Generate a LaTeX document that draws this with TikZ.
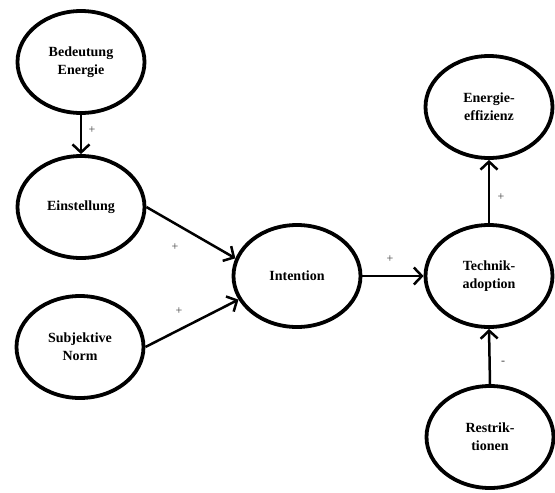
\documentclass[tikz,border=0pt]{standalone}
\usepackage{fontspec}
\setmainfont{Liberation Serif}
\usetikzlibrary{arrows.meta,shapes.geometric}
\begin{document}
\begin{tikzpicture}[x=1pt,y=-1pt,
  var/.style={ellipse, draw, line width=3.8pt, minimum width=127pt, minimum height=102pt,
    inner sep=0pt, align=center, font=\fontsize{14}{18}\selectfont\bfseries},
  link/.style={line width=2.5pt, -{Straight Barb[length=8pt,width=17pt,line width=2.5pt]}},
  sign/.style={font=\fontsize{12}{14}\selectfont, text=black!75, inner sep=0pt}]
\useasboundingbox (0,0) rectangle (555,493);
\node[var] (bed) at (81,62) {Bedeutung\\Energie};
\node[var] (ein) at (81,207) {Einstellung};
\node[var] (sub) at (80,347) {Subjektive\\Norm};
\node[var] (int) at (297,276) {Intention};
\node[var] (tech) at (489,276) {Technik-\\adoption};
\node[var] (eff) at (489,107) {Energie-\\effizienz};
\node[var] (res) at (490,437) {Restrik-\\tionen};
\draw[link] (bed.south) -- (ein.north);
\draw[link] (ein.east) -- (int.164);
\draw[link] (sub.east) -- (int.202);
\draw[link] (int.east) -- (tech.west);
\draw[link] (tech.north) -- (eff.south);
\draw[link] (res.north) -- (tech.south);
\node[sign] (s1) at (92,130) {+};
\node[sign] (s2) at (175,247) {+};
\node[sign] (s3) at (179,311) {+};
\node[sign] (s4) at (390,259) {+};
\node[sign] (s5) at (501,197) {+};
\node[sign] (s6) at (503,363) {-};
\end{tikzpicture}
\end{document}
